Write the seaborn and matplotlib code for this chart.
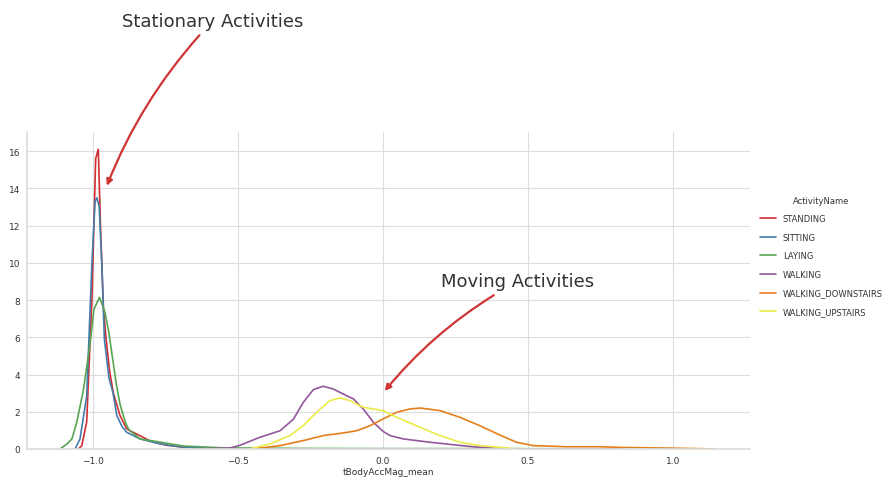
import matplotlib
matplotlib.use("Agg")
import matplotlib.pyplot as plt
import seaborn as sns

# ---- data (KDE curves of tBodyAccMag_mean) ----
activities = ["STANDING", "SITTING", "LAYING", "WALKING",
              "WALKING_DOWNSTAIRS", "WALKING_UPSTAIRS"]

standing_x = [-1.05, -1.039, -1.022, -1.01, -1.004, -0.991, -0.982, -0.974, -0.964,
              -0.955, -0.943, -0.93, -0.907, -0.885, -0.872, -0.849, -0.803, -0.746,
              -0.69, -0.62, -0.55]
standing_y = [0, 0.18, 1.45, 5.9, 8.05, 15.6, 16.1, 11.8, 7.5, 5.9, 4.2, 3.0, 1.8,
              1.1, 0.97, 0.8, 0.43, 0.2, 0.1, 0.04, 0]

sitting_x = [-1.062, -1.045, -1.022, -1.004, -0.993, -0.987, -0.979, -0.970, -0.961,
             -0.945, -0.931, -0.918, -0.900, -0.884, -0.838, -0.769, -0.70, -0.62, -0.50]
sitting_y = [0, 0.54, 2.85, 10.0, 13.3, 13.5, 13.05, 10.0, 5.9, 3.8, 3.0, 1.8, 1.2,
             0.9, 0.54, 0.27, 0.12, 0.05, 0]

laying_x = [-1.114, -1.09, -1.073, -1.056, -1.033, -1.01, -0.997, -0.978, -0.959,
            -0.945, -0.932, -0.92, -0.907, -0.89, -0.878, -0.838, -0.769, -0.69,
            -0.55, -0.3, 0.0, 0.4, 0.83]
laying_y = [0, 0.27, 0.54, 1.45, 3.2, 5.7, 7.5, 8.15, 7.35, 6.2, 4.8, 3.5, 2.4, 1.5,
            1.07, 0.54, 0.37, 0.16, 0.06, 0.03, 0.02, 0.02, 0]

walking_x = [-0.65, -0.528, -0.493, -0.424, -0.355, -0.309, -0.275, -0.240, -0.206,
             -0.171, -0.137, -0.102, -0.068, -0.033, 0.0, 0.024, 0.07, 0.162, 0.241,
             0.311, 0.369, 0.40]
walking_y = [0, 0.05, 0.2, 0.63, 0.98, 1.6, 2.5, 3.19, 3.37, 3.22, 2.95, 2.69, 2.15,
             1.43, 0.95, 0.72, 0.54, 0.36, 0.23, 0.12, 0.06, 0.02]

downstairs_x = [-0.45, -0.355, -0.275, -0.206, -0.137, -0.091, -0.045, 0.0, 0.047,
                0.093, 0.128, 0.197, 0.266, 0.334, 0.403, 0.461, 0.518, 0.633, 0.747,
                0.83, 0.978, 1.15]
downstairs_y = [0, 0.18, 0.45, 0.72, 0.86, 0.98, 1.25, 1.61, 1.97, 2.15, 2.2, 2.06,
                1.7, 1.25, 0.75, 0.36, 0.18, 0.12, 0.12, 0.08, 0.05, 0]

upstairs_x = [-0.46, -0.39, -0.321, -0.275, -0.229, -0.183, -0.148, -0.114, -0.068,
              -0.033, 0.0, 0.047, 0.093, 0.128, 0.197, 0.266, 0.334, 0.40, 0.46]
upstairs_y = [0, 0.27, 0.72, 1.25, 1.97, 2.6, 2.74, 2.6, 2.24, 2.15, 2.06, 1.7, 1.4,
              1.16, 0.72, 0.36, 0.18, 0.09, 0]

x_ticks = [-1.0, -0.5, 0.0, 0.5, 1.0]
y_ticks = [0, 2, 4, 6, 8, 10, 12, 14, 16]

# ---- plotting ----
sns.set_theme(style="whitegrid")
plt.rcParams["font.family"] = ["DejaVu Sans"]

fig = plt.figure(figsize=(8.9, 4.81), dpi=100)
ax = fig.add_axes([0.0303, 0.0645, 0.8124, 0.659])

palette = sns.color_palette("Set1", 6, desat=0.8)
series = [(standing_x, standing_y), (sitting_x, sitting_y), (laying_x, laying_y),
          (walking_x, walking_y), (downstairs_x, downstairs_y),
          (upstairs_x, upstairs_y)]

for name, (xs, ys), c in zip(activities, series, palette):
    sns.lineplot(x=xs, y=ys, ax=ax, color=c, label=name, lw=1.2,
                 estimator=None, sort=False)

ax.set_xlim(-1.228, 1.266)
ax.set_ylim(0, 17.03)
ax.set_xticks(x_ticks)
ax.set_yticks(y_ticks)
ax.tick_params(labelsize=6.5, colors="#333333", length=0, pad=5)
ax.set_xlabel("tBodyAccMag_mean", fontsize=6.5, color="#333333", labelpad=1.5)
ax.set_ylabel("")
sns.despine(ax=ax)
ax.spines["left"].set_color("#dddddd")
ax.spines["bottom"].set_color("#dddddd")
ax.grid(color="#dddddd", lw=0.8)

leg = ax.legend(title="ActivityName", loc="center left",
                bbox_to_anchor=(0.845, 0.466), bbox_transform=fig.transFigure,
                frameon=False, fontsize=6.0, title_fontsize=6.0,
                labelspacing=1.15, handlelength=2.0, handletextpad=0.8)
for t in leg.get_texts():
    t.set_color("#333333")
leg.get_title().set_color("#333333")

arrow_color = "#d03535"
ax.annotate("Stationary Activities", xy=(-0.956, 14), xytext=(-0.9, 23),
            fontsize=13, color="#333333", ha="left", va="center",
            annotation_clip=False,
            arrowprops=dict(arrowstyle="-|>", connectionstyle="arc3,rad=0.1",
                            color=arrow_color, lw=1.6, mutation_scale=9))
ax.annotate("Moving Activities", xy=(0, 3), xytext=(0.2, 9),
            fontsize=13, color="#333333", ha="left", va="center",
            annotation_clip=False,
            arrowprops=dict(arrowstyle="-|>", connectionstyle="arc3,rad=0.1",
                            color=arrow_color, lw=1.6, mutation_scale=9))

fig.savefig("out.png", dpi=100)
